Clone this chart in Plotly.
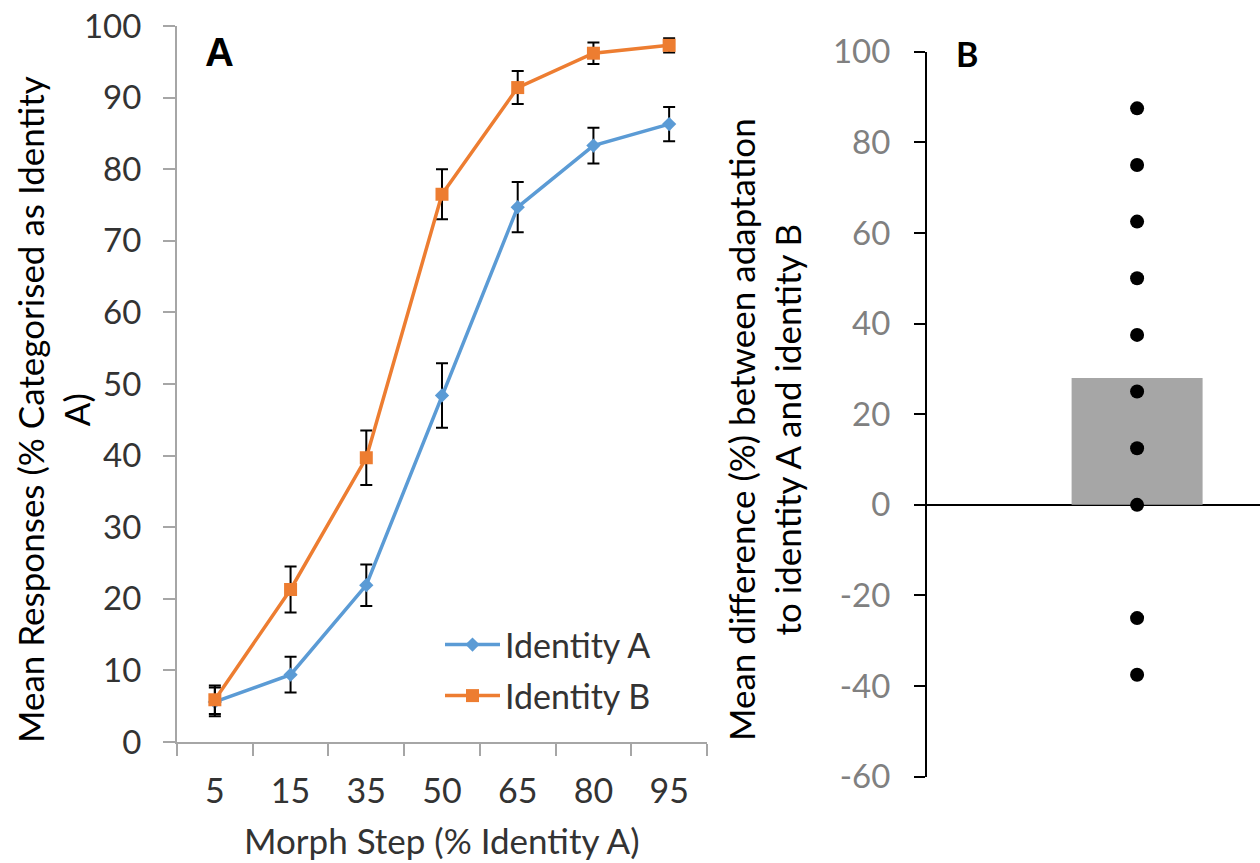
import plotly.graph_objects as go

# ---------------- data ----------------
morph_steps = ["5", "15", "35", "50", "65", "80", "95"]
identity_a = [5.6, 9.4, 21.9, 48.4, 74.7, 83.3, 86.3]
identity_a_err = [2.0, 2.5, 2.9, 4.5, 3.5, 2.5, 2.4]
identity_b = [5.9, 21.3, 39.7, 76.5, 91.4, 96.2, 97.3]
identity_b_err = [2.0, 3.2, 3.8, 3.5, 2.3, 1.5, 1.0]

diff_category = ["Difference"]
diff_mean = [28.0]
diff_individual = [87.5, 75, 62.5, 50, 37.5, 25, 12.5, 0, -25, -37.5]
diff_tick_values = [-60, -40, -20, 0, 20, 40, 60, 80, 100]
diff_tick_labels = ["-60", "-40", "-20", "0", "20", "40", "60", "80", "100"]

W, H = 1260, 863
FONT = "Lato"
BLUE = "#5B9BD5"
ORANGE = "#ED7D31"
AXGRAY = "#A6A6A6"
TXT = "#333333"


def px(x):
    return x / W


def py(y):
    return 1 - y / H


fig = go.Figure()

fig.add_trace(go.Scatter(
    x=morph_steps, y=identity_a, name="Identity A", mode="lines+markers",
    line=dict(color=BLUE, width=3.5),
    marker=dict(symbol="diamond", size=11, color=BLUE),
    error_y=dict(type="data", array=identity_a_err, visible=True,
                 color="black", thickness=2, width=6),
    xaxis="x", yaxis="y", legend="legend",
))
fig.add_trace(go.Scatter(
    x=morph_steps, y=identity_b, name="Identity B", mode="lines+markers",
    line=dict(color=ORANGE, width=3.5),
    marker=dict(symbol="square", size=13, color=ORANGE),
    error_y=dict(type="data", array=identity_b_err, visible=True,
                 color="black", thickness=2, width=6),
    xaxis="x", yaxis="y", legend="legend2",
))

fig.add_trace(go.Bar(
    x=diff_category, y=diff_mean, width=0.6235,
    marker=dict(color="#A6A6A6", line=dict(width=0)),
    showlegend=False, xaxis="x2", yaxis="y2",
))
fig.add_trace(go.Scatter(
    x=diff_category * len(diff_individual), y=diff_individual, mode="markers",
    marker=dict(color="black", size=14),
    showlegend=False, xaxis="x2", yaxis="y2",
))

fig.update_layout(
    template="none",
    width=W, height=H,
    margin=dict(l=0, r=0, t=0, b=0, pad=0),
    paper_bgcolor="white", plot_bgcolor="white",
    font=dict(family=FONT, size=33, color=TXT),
    xaxis=dict(
        domain=[px(177), px(707)], anchor="y", automargin=False,
        type="category", range=[-0.5, 6.5],
        showline=True, linecolor=AXGRAY, linewidth=2,
        ticks="outside", tickson="boundaries", ticklen=12, tickwidth=2, tickcolor=AXGRAY,
        showgrid=False, zeroline=False,
        tickfont=dict(family=FONT, size=34, color=TXT),
        ticklabelstandoff=18,
    ),
    yaxis=dict(
        domain=[py(742), py(26)], anchor="x", automargin=False,
        range=[0, 100], dtick=10,
        showline=True, linecolor=AXGRAY, linewidth=2,
        ticks="outside", ticklen=12, tickwidth=2, tickcolor=AXGRAY,
        showgrid=False, zeroline=False,
        tickfont=dict(family=FONT, size=33, color=TXT),
        ticklabelstandoff=15,
    ),
    xaxis2=dict(
        domain=[px(927), 1.0], anchor="y2", automargin=False,
        type="category", range=[-1.0, 0.585],
        showline=False, showticklabels=False, ticks="", showgrid=False, zeroline=False,
    ),
    yaxis2=dict(
        domain=[py(776.7), py(51.7)], anchor="x2", automargin=False,
        range=[-60, 100], tickvals=diff_tick_values, ticktext=diff_tick_labels,
        showline=True, linecolor="black", linewidth=2,
        ticks="outside", ticklen=11, tickwidth=2, tickcolor="black",
        showgrid=False, zeroline=True, zerolinecolor="black", zerolinewidth=2,
        tickfont=dict(family=FONT, size=33, color="#808080"),
        ticklabelstandoff=17,
    ),
    legend=dict(
        x=px(440), y=py(645), xanchor="left", yanchor="middle", itemwidth=55,
        bgcolor="rgba(0,0,0,0)", font=dict(family=FONT, size=34, color=TXT),
    ),
    legend2=dict(
        x=px(440), y=py(696), xanchor="left", yanchor="middle", itemwidth=55,
        bgcolor="rgba(0,0,0,0)", font=dict(family=FONT, size=34, color=TXT),
    ),
    showlegend=True,
)

annotations = [
    dict(text="<b>A</b>", x=px(219), y=py(52), xref="paper", yref="paper",
         xanchor="center", yanchor="middle", showarrow=False,
         font=dict(family="Liberation Sans", size=40, color="black")),
    dict(text="<b>B</b>", x=px(967), y=py(53), xref="paper", yref="paper",
         xanchor="center", yanchor="middle", showarrow=False,
         font=dict(family=FONT, size=34, color="black")),
    dict(text="Mean Responses (% Categorised as Identity<br>A)",
         x=px(53), y=py(410), xref="paper", yref="paper",
         xanchor="center", yanchor="middle", showarrow=False, textangle=-90,
         font=dict(family=FONT, size=35, color="black")),
    dict(text="Morph Step (% Identity A)",
         x=px(442), y=py(840), xref="paper", yref="paper",
         xanchor="center", yanchor="middle", showarrow=False,
         font=dict(family=FONT, size=35, color=TXT)),
    dict(text="Mean difference (%) between adaptation<br>to identity A and identity B",
         x=px(764), y=py(430), xref="paper", yref="paper",
         xanchor="center", yanchor="middle", showarrow=False, textangle=-90,
         font=dict(family=FONT, size=35, color="black")),
]
fig.update_layout(annotations=annotations)

fig.write_html("out.html")
